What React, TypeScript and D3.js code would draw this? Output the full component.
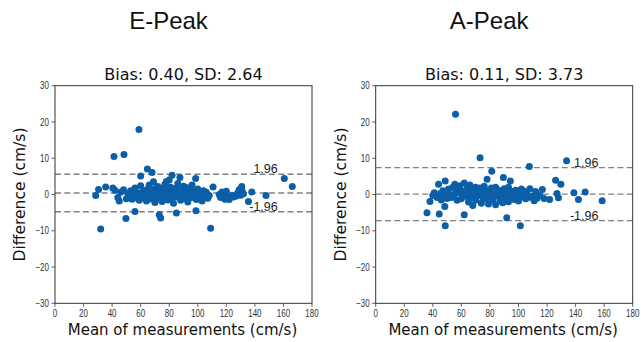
import React from "react";
import * as d3 from "d3";

const panelTitles = ["E-Peak", "A-Peak"];
const biasValues = [0.4, 0.11];
const sdValues = [2.64, 3.73];
const xTicks = [0, 20, 40, 60, 80, 100, 120, 140, 160, 180];
const yTicks = [-30, -20, -10, 0, 10, 20, 30];

const ePeakMeans = [28.5,30.5,32,35.5,40.5,41.3,42,44,45,46,48.3,49.7,48,50,51,52,53,54,55,56,56,57,58,58.8,59,60,60,61,62,62,63,64,64.7,65,66,66,67,68,68,69,69,70,70,71,72,72,73,73,74,74,75,75,76,77,77,78,78,79,80,80,81,81,82,82,83,83,84,85,85,86,86,87,87.5,88,89,89,90,90,91,92,92,93,94,95,95,96,97,98,98.5,98.7,99,100,101,102,103,104,105,106,107,108,109,110.7,115,116,117,118,119,120,121,122,124,125,127,128,129,130,130.8,131,132,135.5,137.8,147.8,160.6,166.2];
const ePeakDiffs = [-0.3,1.4,-9.5,2.1,1.8,10.5,1.2,-0.8,-1.8,0.6,11.0,-6.6,1.3,-1.2,0.2,-0.5,1.0,-1.3,0.4,-4.7,1.8,-0.9,0.5,17.9,-1.6,5.1,2.4,-0.2,1.1,-1.0,0.3,-1.8,7.0,1.5,-0.6,2.6,0.8,6.1,-1.3,3.5,0.1,1.6,-2.2,-0.4,0.9,2.2,-5.6,-1.0,-6.5,0.5,1.7,-1.9,0.0,2.8,-0.8,1.2,3.6,-1.5,0.6,4.0,-0.3,2.0,5.3,-1.2,1.0,-2.4,0.2,-5.1,1.8,-0.7,3.0,0.4,4.7,-1.6,1.3,-0.2,2.3,-1.1,0.7,-0.5,1.9,-2.1,0.3,1.2,-0.9,2.6,-0.3,0.8,4.4,-4.5,-1.4,1.5,-0.6,0.2,-1.8,1.0,-0.2,0.6,-1.0,-0.3,-9.3,2.1,0.0,-0.8,0.7,0.3,-1.3,0.9,-0.6,-1.4,-0.2,-0.7,-0.4,0.5,1.3,-0.2,2.2,1.0,0.2,-1.9,0.7,-0.3,4.4,2.2];

const aPeakMeans = [35.9,38,40,41,43,44,44.5,45,46,47,48,48.4,48.7,48.7,49,50,51,52,53,54,55,55.4,55.9,56,57,58,59,60,60,61,62,62,63,64,65,65,66,67,68,68,69,70,70,71,72,73,73.1,74,74,75,76,76,77,78,78,79,80,80,81.3,81,82,83,84,84,85,86,87,88,88,89.4,89,90,91,91.8,92,93,93,94.3,95,96,97,98,99,100,101.3,101,102,103,104,105,106,107.6,107,108,110,111,112,113,115,116.7,118,121.8,126,127,128,129.7,133.7,138.8,142,146.7,158.6];
const aPeakDiffs = [-5.0,-1.9,-0.3,0.5,-0.8,2.8,-5.4,0.2,-1.5,1.0,-0.4,-3.3,-8.6,3.7,0.8,-1.1,1.5,0.0,-0.8,2.0,-0.2,2.8,22.1,1.2,-1.6,0.5,2.4,-1.2,1.0,0.2,-5.6,3.2,-0.5,1.6,-2.1,0.4,2.6,-0.9,1.1,-3.0,0.0,2.0,-1.6,0.7,-0.3,1.8,10.1,-2.4,0.9,-0.8,2.3,0.2,-1.2,4.2,1.0,-2.6,0.4,-0.7,6.4,1.8,-1.5,0.1,2.0,-2.8,-0.4,1.2,-1.8,0.6,-0.2,4.7,-2.3,1.6,-0.9,-6.4,0.3,2.0,-2.0,3.7,-0.5,0.8,-1.4,1.2,-0.2,-1.8,-8.6,0.5,1.5,-0.6,0.9,-1.2,0.3,7.7,-0.8,1.6,-0.4,-1.7,0.8,-1.0,-0.3,1.4,-1.1,-1.4,3.9,0.3,-0.9,2.8,9.3,0.5,-1.4,0.7,-1.7];

const panelMeans = [ePeakMeans, aPeakMeans];
const panelDiffs = [ePeakDiffs, aPeakDiffs];

const W = 641, H = 342;
const dotColor = "#0b5fa8";
const axisColor = "#333";
const tickFont = "'Liberation Sans', Arial, sans-serif";
const dejavu = "'DejaVu Sans', sans-serif";

function Panel({ idx, offset }: { idx: number; offset: number }) {
  const left = 55 + offset, right = 312 + offset, top = 85.7, bottom = 303.3;
  const x = d3.scaleLinear().domain([0, 180]).range([left, right]);
  const y = d3.scaleLinear().domain([-30, 30]).range([bottom, top]);
  const bias = biasValues[idx];
  const sd = sdValues[idx];
  const upper = bias + 1.96 * sd;
  const lower = bias - 1.96 * sd;
  const means = panelMeans[idx];
  const diffs = panelDiffs[idx];
  const cx = (left + right) / 2;
  return (
    <g>
      <text x={cx - 15} y={29} textAnchor="middle" fontFamily="'Liberation Sans', Arial, sans-serif" fontSize={24} fill="#111">
        {panelTitles[idx]}
      </text>
      <text x={cx} y={80} textAnchor="middle" fontFamily={dejavu} fontSize={16} fill="#111">
        {`Bias: ${bias.toFixed(2)}, SD: ${sd.toFixed(2)}`}
      </text>
      {[upper, bias, lower].map((v, i) => (
        <line key={i} x1={left} x2={right} y1={y(v)} y2={y(v)} stroke="#808080" strokeWidth={1.4} strokeDasharray="6,3.3" />
      ))}
      {means.map((m, i) => (
        <circle key={i} cx={x(m)} cy={y(diffs[i])} r={3.5} fill={dotColor} />
      ))}
      <text x={x(156)} y={y(upper) - 1} textAnchor="end" fontFamily={tickFont} fontSize={12.5} fill="#222">1.96</text>
      <text x={x(156)} y={y(lower) - 0.5} textAnchor="end" fontFamily={tickFont} fontSize={12.5} fill="#222">-1.96</text>
      <rect x={left} y={top} width={right - left} height={bottom - top} fill="none" stroke={axisColor} strokeWidth={1} />
      {xTicks.map((t) => (
        <g key={"x" + t}>
          <line x1={x(t)} x2={x(t)} y1={bottom} y2={bottom + 3.5} stroke={axisColor} strokeWidth={0.8} />
          <text transform={`translate(${x(t)},${bottom + 13.5}) scale(0.8,1)`} textAnchor="middle" fontFamily={tickFont} fontSize={10} fill="#333">
            {t}
          </text>
        </g>
      ))}
      {yTicks.map((t) => (
        <g key={"y" + t}>
          <line x1={left - 3.5} x2={left} y1={y(t)} y2={y(t)} stroke={axisColor} strokeWidth={0.8} />
          <text transform={`translate(${left - 6},${y(t) + 3.6}) scale(0.8,1)`} textAnchor="end" fontFamily={tickFont} fontSize={10} fill="#333">
            {t < 0 ? "\u2212" + Math.abs(t) : t}
          </text>
        </g>
      ))}
      <text x={cx - 1} y={335} textAnchor="middle" fontFamily={dejavu} fontSize={15} fill="#111">
        Mean of measurements (cm/s)
      </text>
      <text transform={`translate(${offset + 25},${(top + bottom) / 2}) rotate(-90)`} textAnchor="middle" fontFamily={dejavu} fontSize={15.5} fill="#111">
        Difference (cm/s)
      </text>
    </g>
  );
}

export default function App() {
  return (
    <svg width={W} height={H} style={{ position: "absolute", left: 0, top: 0, background: "#fff" }}>
      <rect width={W} height={H} fill="#fff" />
      <Panel idx={0} offset={0} />
      <Panel idx={1} offset={320.7} />
    </svg>
  );
}
